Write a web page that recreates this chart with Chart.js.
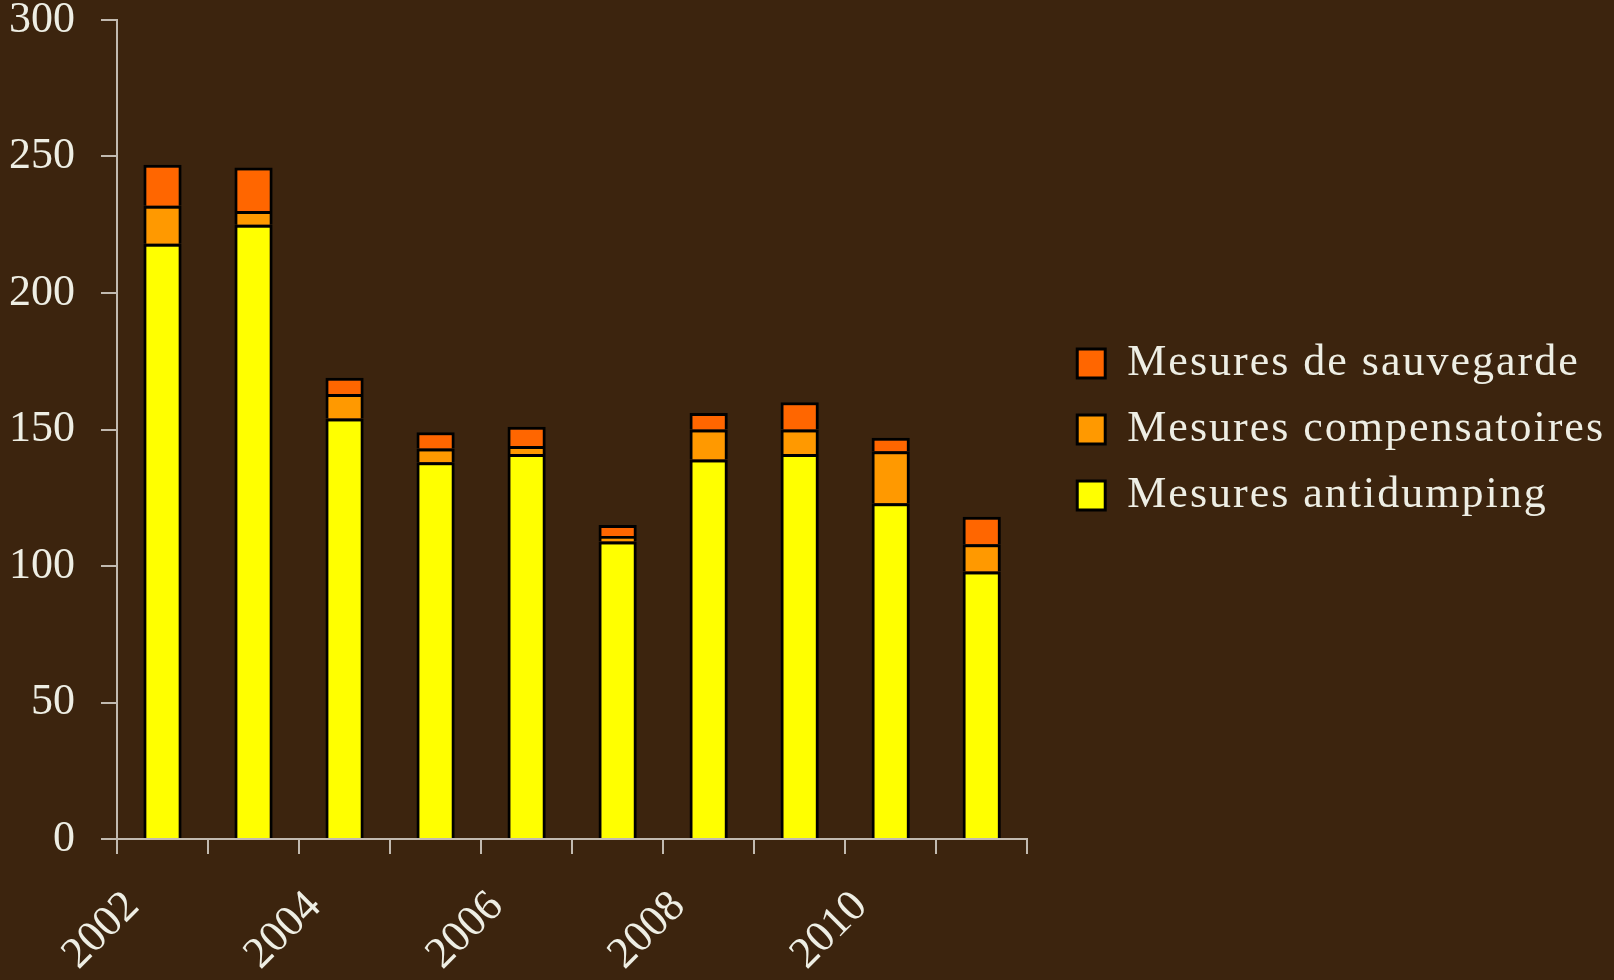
<!DOCTYPE html>
<html>
<head>
<meta charset="utf-8">
<script src="https://cdn.jsdelivr.net/npm/chart.js@4"></script>
<style>
  html, body { margin: 0; padding: 0; background: #3C240E; }
  canvas { display: block; background: #3C240E; }
</style>
</head>
<body>
<canvas id="c" width="1614" height="980"></canvas>
<script>
const years = ['2002','2003','2004','2005','2006','2007','2008','2009','2010','2011'];
const antidumping = [218, 225, 154, 138, 141, 109, 139, 141, 123, 98];
const compensatoires = [14, 5, 9, 5, 3, 2, 11, 9, 19, 10];
const sauvegarde = [15, 16, 6, 6, 7, 4, 6, 10, 5, 10];
const seriesNames = ['Mesures antidumping', 'Mesures compensatoires', 'Mesures de sauvegarde'];
const yTicks = [0, 50, 100, 150, 200, 250, 300];

const textColor = '#EEEEE4';
const axisColor = '#C2BAB0';
const fontFamily = "'Liberation Serif', 'Times New Roman', serif";
const font = { family: fontFamily, size: 44 };

const ds = (label, data, color) => ({
  label, data, backgroundColor: color, borderColor: '#000000', borderWidth: 3,
  barPercentage: 0.42, categoryPercentage: 1.0
});

const legendSpacing = {
  id: 'legendSpacing',
  beforeInit(chart) {
    const lg = chart.legend;
    if (!lg || lg._spaced) return;
    const wrap = (name, spacing) => {
      const orig = lg[name];
      lg[name] = function() {
        const ctx = this.ctx;
        const prev = ctx.letterSpacing || '0px';
        ctx.letterSpacing = spacing;
        const r = orig.apply(this, arguments);
        ctx.letterSpacing = prev;
        return r;
      };
    };
    wrap('fit', '1.5px');
    wrap('draw', '2px');
    lg._spaced = true;
  }
};

new Chart(document.getElementById('c'), {
  type: 'bar',
  data: {
    labels: years,
    datasets: [
      ds(seriesNames[0], antidumping, '#FFFF00'),
      ds(seriesNames[1], compensatoires, '#FF9900'),
      ds(seriesNames[2], sauvegarde, '#FF6600')
    ]
  },
  plugins: [legendSpacing],
  options: {
    responsive: false,
    animation: false,
    devicePixelRatio: 1,
    layout: { padding: { left: 8, top: 20, bottom: 0, right: 10 } },
    plugins: {
      tooltip: { enabled: false },
      legend: {
        position: 'right',
        fullSize: false,
        reverse: true,
        maxWidth: 700,
        labels: {
          color: textColor, font: font,
          boxWidth: 28, boxHeight: 29, padding: 22
        }
      }
    },
    scales: {
      x: {
        stacked: true,
        afterFit: s => { s.height = 141; s.paddingLeft = 0; s.paddingRight = 0; },
        grid: { display: true, drawOnChartArea: false, drawTicks: true, tickLength: 15, color: axisColor, lineWidth: 2, offset: true },
        border: { display: true, color: axisColor, width: 2 },
        ticks: {
          color: textColor, font: font, autoSkip: false,
          maxRotation: 45, minRotation: 45, labelOffset: -30, padding: 27,
          callback: function(v, i) { const y = parseInt(years[i]); return (y % 2 === 0) ? years[i] : ''; }
        }
      },
      y: {
        stacked: true, min: 0, max: 300,
        afterBuildTicks: s => { s.ticks = yTicks.map(v => ({ value: v })); },
        afterFit: s => { s.width = 109; s.paddingTop = 0; s.paddingBottom = 0; },
        grid: { display: true, drawOnChartArea: false, drawTicks: true, tickLength: 16, color: axisColor, lineWidth: 2 },
        border: { display: true, color: axisColor, width: 2 },
        ticks: { color: textColor, font: { family: fontFamily, size: 44, lineHeight: 0.1 }, padding: 26 }
      },
      pad: {
        type: 'linear', position: 'right', display: true,
        afterFit: s => { s.width = 28; s.paddingTop = 0; s.paddingBottom = 0; },
        grid: { display: false, drawTicks: false }, border: { display: false },
        ticks: { display: false }
      }
    }
  }
});
</script>
</body>
</html>
